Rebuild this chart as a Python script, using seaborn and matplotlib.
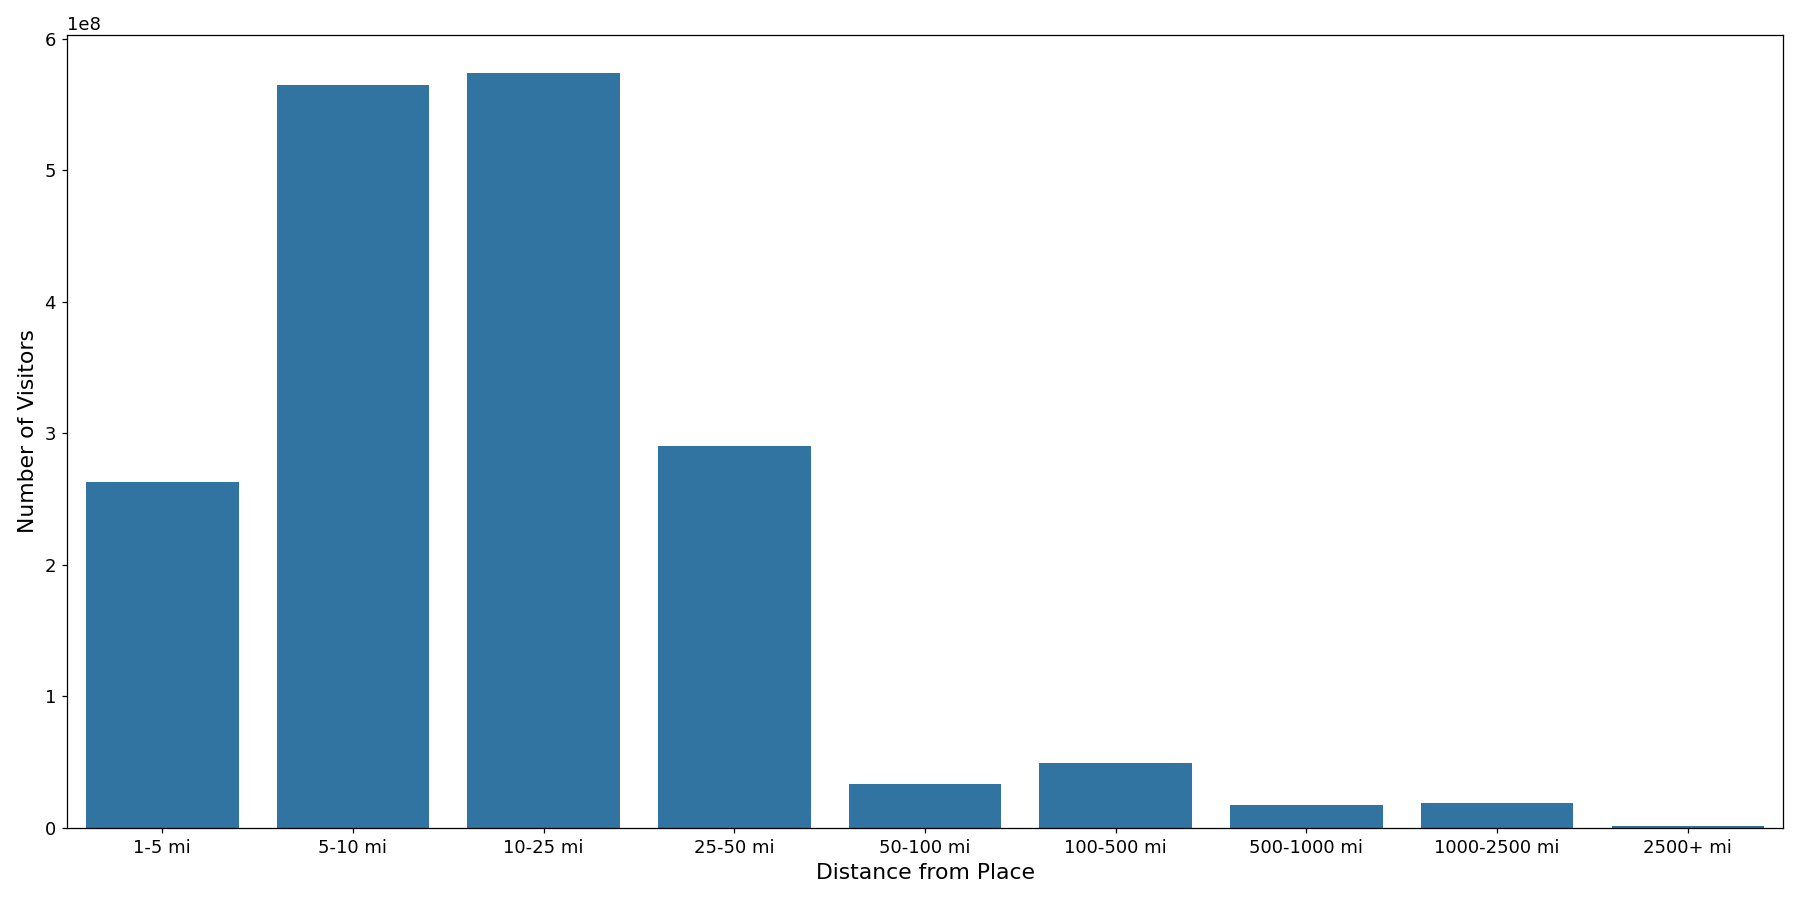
import matplotlib
matplotlib.use("Agg")
import matplotlib.pyplot as plt
import seaborn as sns
import pandas as pd

categories = ["1-5 mi", "5-10 mi", "10-25 mi", "25-50 mi", "50-100 mi",
              "100-500 mi", "500-1000 mi", "1000-2500 mi", "2500+ mi"]
visitors = [2.63e8, 5.65e8, 5.74e8, 2.905e8, 0.33e8, 0.49e8, 0.175e8, 0.19e8, 0.012e8]

df = pd.DataFrame({"Distance from Place": categories, "Number of Visitors": visitors})

fig, ax = plt.subplots(figsize=(16, 8))
sns.barplot(data=df, x="Distance from Place", y="Number of Visitors", color="#1f77b4", ax=ax)
ax.set_xlabel("Distance from Place", fontsize=14)
ax.set_ylabel("Number of Visitors", fontsize=14)
ax.tick_params(labelsize=11.5)
ax.yaxis.get_offset_text().set_fontsize(11.5)
fig.tight_layout()
fig.savefig("out.png", dpi=112.5)
